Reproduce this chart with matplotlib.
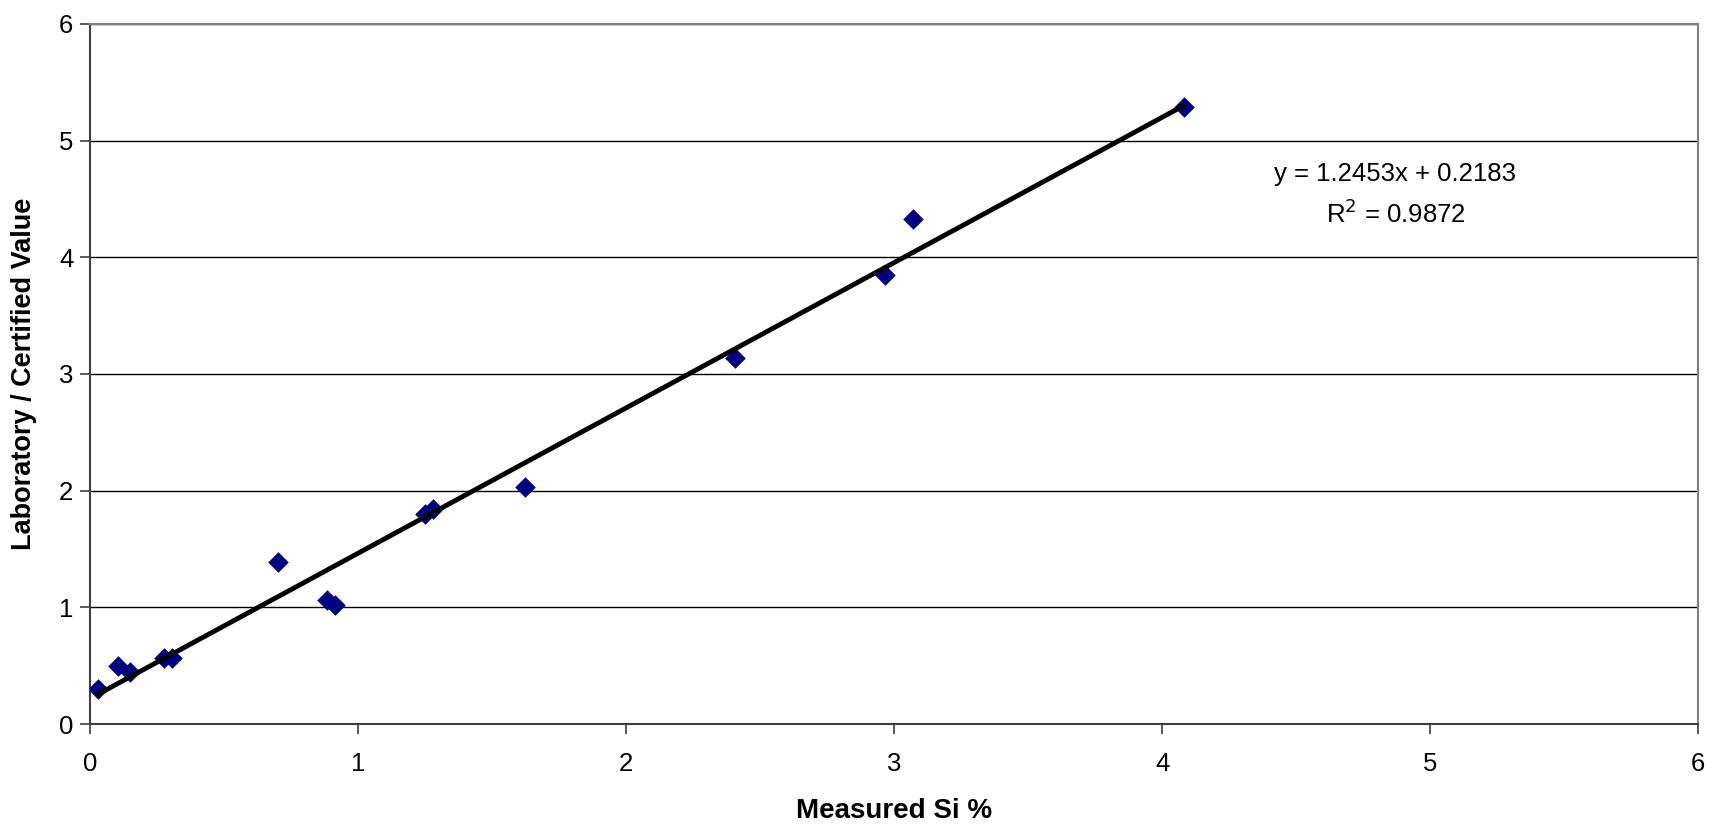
import numpy as np
import matplotlib.pyplot as plt

plt.rcParams['font.family'] = ['Liberation Sans', 'DejaVu Sans']

# measured Si % vs laboratory / certified value
measured = [0.028, 0.106, 0.15, 0.277, 0.305, 0.70, 0.883, 0.915,
            1.249, 1.28, 1.623, 2.408, 2.966, 3.07, 4.08]
certified = [0.30, 0.50, 0.45, 0.57, 0.57, 1.39, 1.065, 1.02,
             1.80, 1.84, 2.03, 3.14, 3.85, 4.33, 5.29]

# trendline coefficients as printed on the chart
slope = 1.2453
intercept = 0.2183
r2 = 0.9872

fig = plt.figure(figsize=(17.09, 8.25), dpi=100)
ax = fig.add_axes([0.0527, 0.1224, 0.9409, 0.8486])

ax.scatter(measured, certified, marker='D', s=110, color='#000080', zorder=3, linewidths=0)

xs = np.array([min(measured), max(measured)])
ax.plot(xs, slope * xs + intercept, color='black', lw=3.5, zorder=4)

ax.set_xlim(0, 6)
ax.set_ylim(0, 6)
ax.set_xticks(range(7))
ax.set_yticks(range(7))
ax.yaxis.grid(True, color='black', lw=1)
ax.set_axisbelow(True)

for side in ['top', 'right']:
    ax.spines[side].set_color('#808080')
    ax.spines[side].set_linewidth(1.5)
for side in ['left', 'bottom']:
    ax.spines[side].set_color('#404040')
    ax.spines[side].set_linewidth(1.5)

ax.tick_params(direction='out', length=7, width=1.2, labelsize=18.5, color='#404040')
ax.tick_params(axis='x', pad=13)
ax.tick_params(axis='y', pad=5)

# axis titles placed in figure coords
fig.text(0.523, 0.0165, 'Measured Si %', ha='center', va='center',
         fontsize=20, fontweight='bold')
fig.text(0.014, 0.547, 'Laboratory / Certified Value', rotation=90,
         ha='center', va='center', fontsize=19.5, fontweight='bold')

ax.text(4.87, 4.71, f'y = {slope}x + {intercept}', ha='center', va='center', fontsize=18.5)
ax.text(4.87, 4.37, f'R$^2$ = {r2}', ha='center', va='center', fontsize=18.5)

fig.savefig('out.png', dpi=100)
